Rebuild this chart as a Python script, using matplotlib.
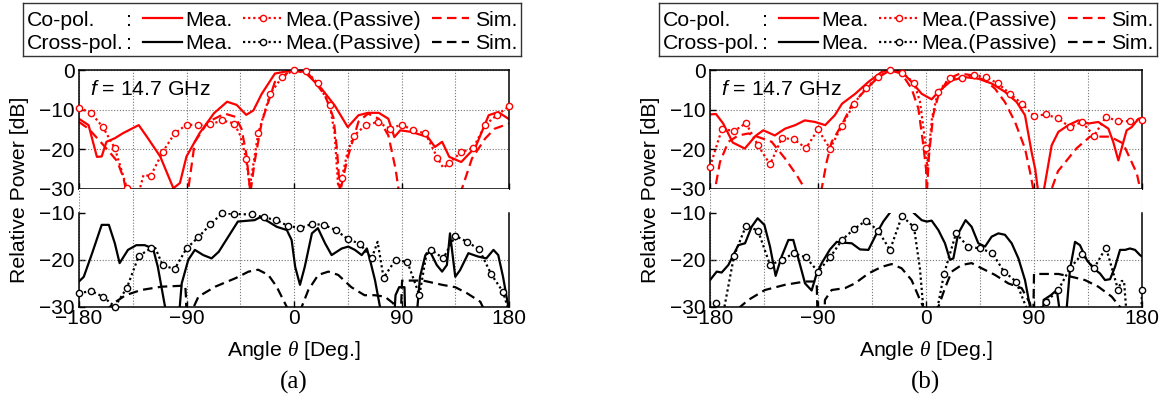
import numpy as np
import matplotlib
matplotlib.use('Agg')
import matplotlib.pyplot as plt
from matplotlib.transforms import Bbox, TransformedBbox

plt.rcParams['font.family'] = ['Liberation Sans', 'DejaVu Sans']
plt.rcParams['mathtext.fontset'] = 'custom'
plt.rcParams['mathtext.rm'] = 'Liberation Sans'
plt.rcParams['mathtext.it'] = 'Liberation Serif:italic'
plt.rcParams['mathtext.sf'] = 'Liberation Sans:italic'

# ---- panel (a) : co-pol ----
a_co_mea_x = [-180, -172, -165, -161, -157, -150, -143, -130, -123, -112, -101, -95.5, -90, -79, -67, -56, -48,
              -40, -34, -27, -16, -9, 0, 9, 23, 34, 45, 54, 62, 71, 79, 84, 89, 98, 112, 118, 124, 130, 140, 152,
              163, 171, 180]
a_co_mea_y = [-12.3, -13.9, -21.9, -21.8, -18.1, -17.2, -15.9, -13.9, -16.9, -21.8, -29.8, -28.5, -21.8, -15.9,
              -10.9, -8.0, -8.8, -11.3, -10.2, -6.0, -0.9, -0.5, 0, -0.5, -4.7, -8.9, -14.4, -11.4, -10.8, -10.8,
              -12.3, -16.9, -15.2, -15.6, -16.9, -19.4, -18.1, -21.9, -23.2, -19.4, -11.4, -10.6, -12.4]
a_co_pas_x = [-180, -170, -160, -150, -140, -136, -130, -126, -120, -110, -100, -90, -80, -70, -60, -50, -45, -40,
              -37, -30, -20, -10, 0, 10, 20, 30, 34, 37, 40, 45, 50, 60, 70, 80, 90, 100, 110, 120, 125, 130, 140,
              150, 160, 170, 180]
a_co_pas_y = [-9.5, -10.8, -14.4, -19.7, -29.7, -33, -31, -26.5, -26.7, -20.7, -16.0, -13.8, -13.9, -13.7, -12.7,
              -13.5, -16.5, -22.5, -29.5, -16.0, -6.0, -1.8, 0, -0.3, -3.3, -8.9, -16.0, -29.5, -27.2, -20.5, -16.6,
              -13.9, -13.1, -14.8, -13.8, -15.2, -16.0, -22.1, -24.7, -23.4, -20.7, -19.7, -13.9, -11.3, -9.2]
a_co_pas_mk = list(range(-180, 181, 10))
a_co_sim_x = [-180, -172, -162, -155, -148, -143, -140, -138, -90, -88.5, -83, -72, -58, -49, -44, -40, -36.5,
              -33, -27, -16, -2, 12, 26, 33, 36, 38.5, 42, 45.5, 54, 62, 71, 79, 85, 88, 90, 138, 140.5, 149, 160,
              168, 180]
a_co_sim_y = [-13.1, -14.8, -18.1, -20.5, -23.0, -27.0, -31, -40, -40, -30, -18.1, -13.1, -11.0, -11.8, -14.8,
              -21.0, -31, -23.2, -13.1, -3.0, 0, -0.9, -6.4, -12.0, -20.0, -31, -26.0, -21.5, -13.0, -11.0, -12.3,
              -16.5, -24.9, -31, -40, -40, -30, -22.3, -17.3, -14.8, -13.5]

# ---- panel (a) : cross-pol ----
a_cx_mea_x = [-180, -176, -169, -161, -155, -150, -146, -139, -132, -125, -118, -114, -108, -104, -99, -94, -88.5,
              -83, -76, -69, -63, -55, -47, -38, -33, -28.5, -21.5, -14.5, -6, -2, 1, 5, 9, 15, 20, 26, 31.5, 40,
              45.5, 51, 56.7, 61, 63.6, 67.8, 72, 74, 82, 85, 88, 92.5, 93, 101, 103, 105.5, 110, 114, 119.5, 124,
              128, 130.6, 135, 139, 146, 154, 161, 167, 171, 175, 179.5, 180]
a_cx_mea_y = [-24.6, -23.6, -18.6, -12.6, -12.6, -16.5, -20.7, -17.9, -16.9, -16.9, -17.6, -21.5, -29.9, -40, -40,
              -25.0, -20.0, -17.9, -19.0, -19.7, -18.3, -15.1, -11.9, -11.7, -11.6, -11.0, -11.9, -13.0, -13.7,
              -15.8, -21.5, -25.3, -21.5, -14.4, -13.3, -16.5, -19.0, -17.6, -17.2, -17.9, -19.0, -17.6, -20.0,
              -24.3, -30, -40, -40, -27.5, -25.8, -25.8, -31, -40, -31, -23.6, -19.0, -18.3, -21.1, -22.5, -21.1,
              -14.4, -23.6, -22.2, -18.6, -19.3, -19.7, -17.9, -19.0, -23.6, -30, -31]
a_cx_pas_x = [-180, -170, -160, -150, -140, -130, -120, -117, -110, -100, -90, -80, -70, -60, -50, -35, -25, -15,
              -5, 5, 15, 25, 35, 45, 55, 65, 70, 75, 85, 95, 100, 105, 111, 115, 125, 135, 145, 155, 165, 175, 180]
a_cx_pas_y = [-27.1, -26.6, -27.8, -29.9, -26.0, -19.2, -17.6, -17.0, -21.1, -22.0, -17.6, -15.2, -12.5, -10.1,
              -10.3, -10.4, -11.0, -11.6, -12.8, -13.3, -12.4, -12.6, -13.7, -15.6, -16.6, -19.7, -16.2, -23.8,
              -20.0, -20.5, -24.0, -27.5, -18.6, -17.9, -19.7, -14.9, -16.2, -17.8, -23.0, -26.8, -31]
a_cx_pas_mk = [-180, -170, -160, -150, -140, -130, -120, -110, -100, -90, -80, -70, -60, -50, -35, -25, -15, -5,
               5, 15, 25, 35, 45, 55, 65, 75, 85, 95, 105, 115, 125, 135, 145, 155, 165, 175]
a_cx_sim_x = [-158, -151, -141, -128, -111, -94, -91, -90.3, -89.8, -86, -84, -80, -66, -49, -38, -30, -21.5,
              -14.5, -9, -6, -4, 4, 6.4, 12, 20.3, 28.8, 37, 48, 59, 67.5, 76, 83, 86, 89.5, 90.5, 108, 124, 135,
              145, 156, 160]
a_cx_sim_y = [-31, -29.2, -27.5, -26.4, -25.7, -25.5, -25.5, -28.5, -40, -40, -30, -27.8, -25.7, -23.9, -22.5,
              -22.1, -23.2, -25.7, -28.5, -30, -40, -40, -30, -26.4, -23.2, -22.5, -23.2, -25.8, -27.5, -27.5,
              -27.8, -29.2, -31, -31, -24.4, -24.4, -25.3, -25.8, -27.1, -28.9, -31]

# ---- panel (b) : co-pol ----
b_co_mea_x = [-180, -175, -169, -161, -151, -142, -135.6, -126, -117.5, -109, -101, -92.5, -84, -76, -70, -59, -48,
              -37, -30, -20, -12, -3.6, 4.7, 10.3, 21.4, 32.5, 43.6, 54.7, 65.8, 75.6, 82.5, 88, 91, 93.6, 97.8,
              104.7, 110.3, 118.6, 127, 135.3, 143.6, 152, 156, 160.3, 164.5, 167.2, 171.4, 177, 180]
b_co_mea_y = [-11.2, -11.1, -13.5, -18.3, -19.8, -16.6, -15.2, -16.5, -14.8, -13.9, -12.7, -13.1, -13.9, -11.4,
              -8.5, -6.0, -3.0, -0.5, 0, -0.5, -3.0, -6.0, -7.4, -5.5, -2.6, -1.8, -2.2, -3.4, -5.5, -8.1, -11.4,
              -20.7, -25.0, -31, -31, -19.0, -15.6, -13.9, -12.7, -13.5, -13.1, -14.8, -18.1, -22.8, -18.1, -15.2,
              -14.4, -12.3, -12.1]
b_co_pas_x = [-180, -170, -160, -150, -140, -130, -120, -110, -100, -90, -80, -70, -60, -50, -40, -30, -20, -10,
              -5, 0, 1, 5, 10, 20, 30, 40, 50, 60, 70, 80, 90, 100, 110, 120, 130, 140, 150, 160, 170, 180]
b_co_pas_y = [-24.4, -14.8, -15.4, -13.4, -19.0, -23.8, -17.1, -17.5, -19.7, -15.0, -19.8, -14.1, -8.5, -4.5,
              -1.8, 0, -0.7, -3.2, -8.0, -19.7, -25.0, -12.0, -5.5, -2.0, -2.0, -1.2, -1.8, -3.4, -6.0, -8.5,
              -11.6, -11.2, -12.2, -14.4, -13.1, -16.6, -11.8, -12.9, -12.9, -12.5]
b_co_pas_mk = list(range(-180, 181, 10))
b_co_sim_x = [-177, -175.8, -171.7, -164.7, -156.4, -148, -139.7, -128.6, -117.5, -107.8, -100.8, -99, -88, -87,
              -82.8, -78.6, -70.3, -62, -50.8, -39.7, -30, -20.3, -12, -6.4, -2.2, 0, 0.7, 2.5, 6, 10.3, 18.6, 28.3,
              38, 49.2, 57.5, 65.8, 74.2, 82.5, 86.7, 89.4, 91, 103, 104.7, 110, 125.6, 136.7, 153.3, 164.2, 175.6,
              178.3, 180]
b_co_sim_y = [-40, -30, -23.2, -18.1, -16.5, -16.0, -16.9, -18.1, -22.3, -26.5, -30, -40, -40, -30, -23.2, -18.1,
              -13.9, -8.9, -5.1, -1.8, -0.1, -0.9, -4.7, -9.7, -19.0, -24.9, -31, -21.5, -11.4, -6.4, -2.2, -0.9,
              -1.3, -2.6, -4.7, -8.1, -13.1, -19.8, -25.7, -30, -40, -40, -30, -25.5, -19.7, -16.8, -16.8, -18.5,
              -26.0, -29.7, -31]

# ---- panel (b) : cross-pol ----
b_cx_mea_x = [-180, -174.4, -170.3, -164.7, -160.6, -156.4, -150.8, -145.3, -140.3, -134.7, -130, -125.3, -120.3,
              -114.7, -110.6, -106.4, -100.8, -95.3, -91.1, -86.9, -80, -74.4, -67.5, -61.9, -55, -48, -41.1, -35.6,
              -30, -26, -14, -10.5, -3.6, 0.6, 4.7, 10.3, 15.8, 20, 22.8, 26.9, 33, 38, 43.6, 49.2, 54.7, 60.3,
              65.8, 71.4, 77, 82.5, 86.7, 88, 96, 98, 104, 109, 111.5, 117, 120, 124.2, 128.3, 133.9, 139.5, 145,
              149.2, 153.4, 157.5, 161.7, 165.9, 170, 174.2, 178.3, 180]
b_cx_mea_y = [-24.3, -22.5, -22.7, -21.1, -19.0, -16.9, -16.5, -13.0, -11.2, -12.6, -17.2, -23.4, -19.3, -15.8,
              -15.8, -19.7, -25.0, -26.5, -22.9, -20.7, -17.8, -16.2, -16.4, -16.5, -17.8, -17.9, -14.4, -11.9,
              -10.0, -8.0, -8.0, -10.0, -11.6, -11.9, -11.7, -13.7, -16.5, -20.0, -19.7, -14.4, -11.6, -13.0,
              -16.5, -17.2, -15.1, -14.4, -14.7, -16.5, -19.7, -24.3, -30, -40, -40, -28.5, -27.5, -26.4, -31, -31,
              -22.0, -16.2, -16.9, -20.0, -21.8, -22.9, -24.3, -24.1, -21.5, -17.9, -17.9, -17.6, -17.9, -19.0,
              -19.3]
b_cx_pas_x = [-178, -175, -172, -168, -160, -150, -140, -130, -120, -110, -100, -90, -80, -70, -60, -50, -40, -30,
              -20, -10, -5, -2, 9, 15, 25, 35, 45, 55, 65, 75, 85, 93, 100, 110, 120, 130, 140, 150, 160, 163, 165,
              167, 179.5, 180]
b_cx_pas_y = [-31, -29.2, -31, -30, -19.2, -12.8, -13.8, -21.1, -20.0, -18.6, -19.5, -22.5, -19.5, -15.8, -13.5,
              -11.7, -13.8, -17.9, -10.7, -13.1, -22.0, -31, -31, -23.0, -14.4, -17.2, -17.6, -18.5, -22.5, -24.6,
              -31, -31, -28.9, -26.5, -21.8, -18.8, -21.8, -17.4, -26.3, -24.5, -24.5, -31, -31, -26.5]
b_cx_pas_mk = [-175, -160, -150, -140, -130, -120, -110, -100, -90, -80, -70, -60, -50, -40, -30, -20, -10, 15, 25,
               35, 45, 55, 65, 75, 100, 110, 120, 130, 140, 150, 160, 180]
b_cx_sim_x = [-157, -155, -148, -134.2, -117.5, -100.8, -91.1, -90.5, -86, -84.2, -78.6, -67.5, -59.2, -48, -37,
              -28.6, -20.3, -12, -5, -2.2, -1, 9, 10.3, 15.8, 21.4, 29.7, 38, 46.4, 57.5, 68.6, 79.7, 86.7, 88,
              89.5, 90, 110.3, 121.4, 132.5, 143.6, 154.7, 161.7, 163]
b_cx_sim_y = [-40, -30, -28.5, -26.4, -25.3, -24.6, -24.6, -31, -40, -28.5, -26.4, -26.0, -25.0, -22.9, -21.5,
              -20.9, -21.8, -24.3, -28.5, -30, -40, -40, -30, -26.0, -22.5, -21.1, -20.7, -21.8, -23.2, -25.0,
              -26.0, -29.2, -31, -31, -23.0, -23.0, -23.6, -24.3, -25.7, -27.8, -30, -40]

W, H = 1167, 400
RED = '#ff0000'
LW = 1.6
SIM_DASH = (4.3, 2.4)
DOT = (1, 1.3)
GRID = dict(color='0.45', linestyle=(0, (1, 1.6)), linewidth=0.8)
FS_TICK = 15
FS_TEXT = 15.3


def plot_set(ax, mea, pas, pas_mk, sim, color, clip=None):
    lines = []
    lines += ax.plot(sim[0], sim[1], color=color, lw=LW, dashes=SIM_DASH)
    lines += ax.plot(mea[0], mea[1], color=color, lw=LW)
    lines += ax.plot(pas[0], pas[1], color=color, lw=LW, dashes=DOT)
    px, py = np.array(pas[0], float), np.array(pas[1], float)
    m = np.isin(px, pas_mk) & (py >= -30)
    ax.plot(px[m], py[m], 'o', ls='none', ms=4.5, mfc='white', mec=color, mew=1.0, clip_on=False, zorder=4)
    if clip is not None:
        for ln in lines:
            ln.set_clip_box(clip)


def setup_x(ax, labels):
    ax.set_xlim(-180, 180)
    ax.set_xticks([-180, -90, 0, 90, 180])
    ax.set_xticks([-135, -45, 45, 135], minor=True)
    ax.grid(True, axis='x', which='both', **GRID)
    ax.tick_params(axis='x', which='major', direction='in', length=4, width=1, labelsize=FS_TICK, pad=1.5,
                   labelbottom=labels)
    ax.tick_params(axis='x', which='minor', length=0)
    ax.tick_params(axis='y', direction='in', length=4, width=1, labelsize=FS_TICK, pad=3)
    for sp in ax.spines.values():
        sp.set_linewidth(1.1)


def draw_legend(fig, left_px):
    lg = fig.add_axes([left_px / W, 1 - 56 / H, 498 / W, 53 / H])
    lg.set_xlim(0, 498)
    lg.set_ylim(53, 0)
    lg.set_xticks([])
    lg.set_yticks([])
    for sp in lg.spines.values():
        sp.set_linewidth(1.0)
        sp.set_color('0.2')
    for y, name, c in [(15, 'Co-pol.', RED), (38.5, 'Cross-pol.', 'black')]:
        kw = dict(fontsize=FS_TEXT, va='center_baseline', ha='left')
        lg.text(4, y, name, **kw)
        lg.text(103, y, ':', **kw)
        lg.plot([120, 159], [y, y], color=c, lw=LW)
        lg.text(162, y, 'Mea.', **kw)
        lg.plot([220, 260], [y, y], color=c, lw=LW, dashes=DOT)
        lg.plot([240], [y], 'o', ms=4.5, mfc='white', mec=c, mew=1.0)
        lg.text(262, y, 'Mea.(Passive)', **kw)
        lg.plot([409, 446], [y, y], color=c, lw=LW, dashes=SIM_DASH)
        lg.text(452, y, 'Sim.', **kw)


def draw_panel(fig, left_px, right_px, tag, co, cx):
    wd = (right_px - left_px) / W
    ax1 = fig.add_axes([left_px / W, 1 - 189 / H, wd, 119 / H])
    ax2 = fig.add_axes([left_px / W, 1 - 307 / H, wd, 118 / H])

    ax1.set_ylim(-30, 0)
    ax1.set_yticks([0, -10, -20, -30])
    setup_x(ax1, False)
    ax1.grid(True, axis='y', **GRID)
    plot_set(ax1, *co, color=RED)
    ax1.text(0.025, 0.79, r'$\mathsf{f}$ = 14.7 GHz', transform=ax1.transAxes, fontsize=FS_TEXT,
             va='baseline', ha='left')

    ax2.set_ylim(-30, -5)
    ax2.set_yticks([-10, -20, -30])
    setup_x(ax2, True)
    ax2.axhline(-20, **GRID)
    ax2.spines['top'].set_visible(False)
    ax2.spines['left'].set_bounds(-30, -10)
    ax2.spines['right'].set_bounds(-30, -10)
    clip = TransformedBbox(Bbox([[-180, -30], [180, -10]]), ax2.transData)
    plot_set(ax2, *cx, color='black', clip=clip)

    cx_px = (left_px + right_px) / 2
    fig.text(cx_px / W, 1 - 350 / H, r'Angle $\theta$ [Deg.]', fontsize=FS_TEXT, ha='center', va='center')
    fig.text(cx_px / W, 1 - 382 / H, tag, fontsize=18, family='Liberation Serif', ha='center', va='center')
    fig.text((left_px - 59) / W, 1 - 190 / H, 'Relative Power [dB]', fontsize=FS_TEXT, rotation=90,
             ha='center', va='center')


fig = plt.figure(figsize=(W / 100, H / 100), dpi=100)

draw_panel(fig, 79, 509, '(a)',
           ((a_co_mea_x, a_co_mea_y), (a_co_pas_x, a_co_pas_y), a_co_pas_mk, (a_co_sim_x, a_co_sim_y)),
           ((a_cx_mea_x, a_cx_mea_y), (a_cx_pas_x, a_cx_pas_y), a_cx_pas_mk, (a_cx_sim_x, a_cx_sim_y)))
draw_panel(fig, 710, 1142, '(b)',
           ((b_co_mea_x, b_co_mea_y), (b_co_pas_x, b_co_pas_y), b_co_pas_mk, (b_co_sim_x, b_co_sim_y)),
           ((b_cx_mea_x, b_cx_mea_y), (b_cx_pas_x, b_cx_pas_y), b_cx_pas_mk, (b_cx_sim_x, b_cx_sim_y)))

draw_legend(fig, 23)
draw_legend(fig, 659)

fig.savefig('out.png', dpi=100)
